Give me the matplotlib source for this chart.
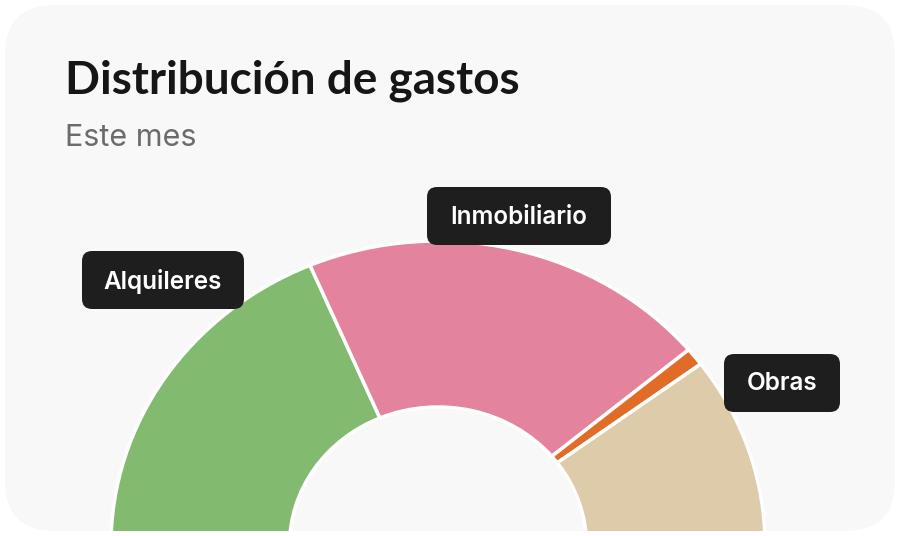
import numpy as np
import matplotlib
matplotlib.use('Agg')
import matplotlib.pyplot as plt
from matplotlib.patches import FancyBboxPatch

# Datos (porcentaje del gasto del mes)
categorias = ['Alquileres', 'Inmobiliario', '', 'Obras']
porcentajes = [37.2, 40.6, 1.9, 20.3]
colores = ['#82BB70', '#E4839E', '#E06C28', '#DECBAA']

titulo = 'Distribución de gastos'
subtitulo = 'Este mes'

W, H = 900, 536
fondo = '#F8F8F8'

fig = plt.figure(figsize=(W / 100, H / 100), dpi=100, facecolor='white')


def px(x, y):
    # pixel (desde arriba-izquierda) -> fracción de figura
    return x / W, 1 - y / H


# Tarjeta con esquinas redondeadas
card = FancyBboxPatch((0.05, 0.05), 8.9, 5.26,
                      boxstyle='round,pad=0,rounding_size=0.5',
                      transform=fig.dpi_scale_trans,
                      facecolor=fondo, edgecolor='none', zorder=0)
fig.add_artist(card)

# Donut semicircular (centro por debajo del borde de la tarjeta)
cx, cy, a, b = 438, 545, 327, 304
l, t = px(cx - a, cy - b)
r, bt = px(cx + a, cy + b)
ax = fig.add_axes([l, bt, r - l, t - bt])
fracs = np.array(porcentajes) / 200.0
wedges, _ = ax.pie(fracs, colors=colores, startangle=180, counterclock=False,
                   normalize=False, radius=1,
                   wedgeprops=dict(width=0.546, edgecolor='white', linewidth=2.5))
ax.set_aspect('auto')
ax.set_xlim(-1, 1)
ax.set_ylim(-1, 1)
ax.axis('off')
ax.patch.set_visible(False)

# recorte a la tarjeta: el eje termina en el borde inferior de la tarjeta
ax.set_clip_on(True)
clip_rect = plt.Rectangle((0, 0.05), W / 100, H / 100,
                          transform=fig.dpi_scale_trans, visible=False)
fig.add_artist(clip_rect)
for w in wedges:
    w.set_clip_on(True)
    w.set_clip_path(clip_rect)

# Título y subtítulo
fig.text(*px(65, 93), titulo, fontsize=33, fontweight='bold', color='#161616',
         family=['Lato', 'DejaVu Sans'], ha='left', va='baseline')
fig.text(*px(65, 146), subtitulo, fontsize=22, color='#6B6B6B',
         family=['Inter', 'DejaVu Sans'], ha='left', va='baseline')

# Etiquetas en cajas oscuras
cajas = {
    'Alquileres': (82, 251, 162, 58),
    'Inmobiliario': (427, 187, 184, 58),
    'Obras': (724, 354, 116, 58),
}
for nombre, (x0, y0, bw, bh) in cajas.items():
    caja = FancyBboxPatch((x0 / 100, (H - y0 - bh) / 100), bw / 100, bh / 100,
                          boxstyle='round,pad=0,rounding_size=0.1',
                          transform=fig.dpi_scale_trans,
                          facecolor='#1E1E1E', edgecolor='none', zorder=5)
    fig.add_artist(caja)
    fig.text(*px(x0 + bw / 2, y0 + bh / 2 + 1), nombre, fontsize=17.5,
             fontweight='semibold', color='white', family=['Inter', 'DejaVu Sans'],
             ha='center', va='center', zorder=6)

fig.savefig('out.png', dpi=100, facecolor='white')
